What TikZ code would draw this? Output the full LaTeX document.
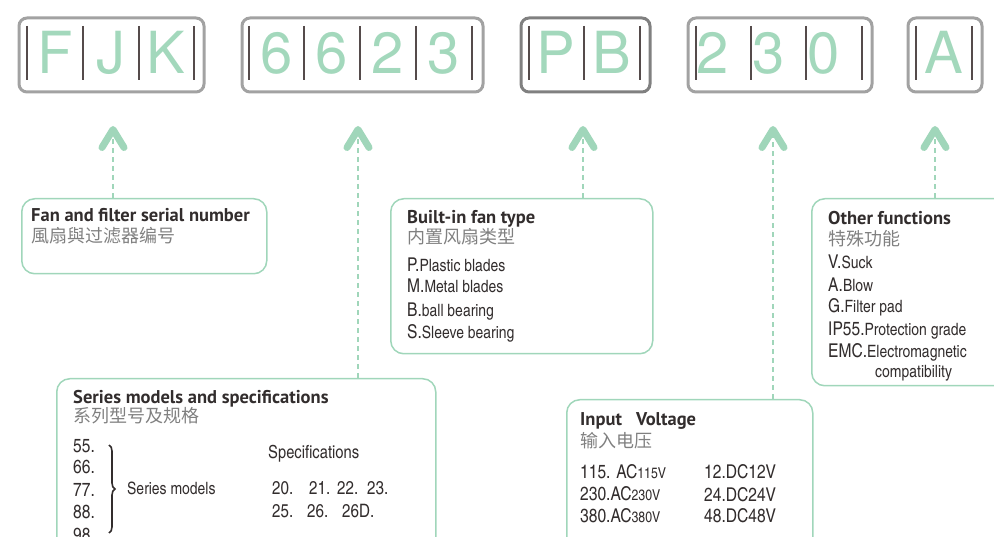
\documentclass[tikz,border=0pt]{standalone}
\usepackage{fontspec}
\setmainfont{TeX Gyre Heros}
\newfontfamily\headfont{PT Sans}
\newfontfamily\condfont{texgyreheroscn-regular.otf}
\newfontfamily\cjkfont{Noto Sans CJK SC}
\usetikzlibrary{arrows.meta,decorations.pathreplacing}
\definecolor{codegreen}{RGB}{163,216,188}
\definecolor{linegreen}{RGB}{160,214,186}
\definecolor{boxgray}{RGB}{162,162,162}
\definecolor{boxdark}{RGB}{128,128,128}
\definecolor{bardark}{RGB}{85,75,75}
\definecolor{textdark}{RGB}{50,45,45}
\definecolor{cjkgray}{RGB}{128,128,128}
\newcommand\sz[1]{\fontsize{#1}{#1}\selectfont}

\begin{document}
\begin{tikzpicture}[x=1pt,y=-1pt,
  codebox/.style={draw=boxgray,line width=3pt,rounded corners=8pt,minimum height=74pt,inner sep=0pt,anchor=north west},
  infobox/.style={draw=linegreen,line width=1.5pt,rounded corners=13pt,inner sep=0pt,anchor=north west},
  bar/.style={draw=bardark,line width=1.5pt},
  codechar/.style={text=codegreen,font=\sz{58},inner sep=0pt,anchor=base},
  head/.style={font=\headfont\bfseries\sz{18.5},text=textdark,inner sep=0pt,anchor=base west},
  cjk/.style={font=\cjkfont\sz{18},text=cjkgray,inner sep=0pt,anchor=base west},
  item/.style={font=\condfont\sz{17},text=textdark,inner sep=0pt,anchor=base west},
  lead/.style={draw=linegreen,line width=2.5pt,dash pattern=on 5pt off 4pt,
    -{Straight Barb[length=18pt,width=22pt,line width=7pt,round]}}]
\useasboundingbox (0,0) rectangle (994,537); \clip (0,0) rectangle (994,537);
% code boxes
\node[codebox,minimum width=185pt] (code-fjk) at (17.5,16.5) {};
\node[codebox,minimum width=241pt] (code-6623) at (240.5,16.5) {};
\node[codebox,draw=boxdark,minimum width=129pt] (code-pb) at (519.5,16.5) {};
\node[codebox,minimum width=184pt] (code-230) at (686.5,16.5) {};
\node[codebox,minimum width=74pt] (code-a) at (906.5,16.5) {};
\foreach \x in {27,83,139,194,249,304,360,416,472,529,584,640,696,751,806,862,916,972} \draw[bar] (\x,26)--(\x,80);
\foreach \x/\c [count=\i] in {55/F,111/J,166/K,277/6,332/6,388/2,444/3,556/P,612/B,944/A} \node[codechar] (ch\i) at (\x,74) {\c};
\foreach \x/\c [count=\i] in {696.5/2,752/3,807/0} \node[codechar,anchor=base west] (dg\i) at (\x,74) {\c};
% info boxes
\node[infobox,minimum width=245pt,minimum height=75pt] (box-fan) at (21,198) {};
\node[infobox,minimum width=262pt,minimum height=155pt] (box-type) at (390,198) {};
\node[infobox,minimum width=230pt,minimum height=187pt] (box-func) at (811,198) {};
\node[infobox,minimum width=379pt,minimum height=200pt] (box-series) at (56,378) {};
\node[infobox,minimum width=246pt,minimum height=200pt] (box-volt) at (566,399) {};
\foreach \n/\x in {fan/113,series/358,type/583,volt/773,func/935} {
  \coordinate (tip-\n) at (\x,126); \draw[lead] (tip-\n |- box-\n.north)--(tip-\n);}
% fan and filter
\node[head] (fan-en) at (31,222) {Fan and filter serial number};
\node[cjk] (fan-cn) at (31,243) {風扇與过滤器编号};
% fan type
\node[head] (type-en) at (407,224) {Built-in fan type};
\node[cjk] (type-cn) at (407,244) {内置风扇类型};
\foreach \y/\a/\b [count=\i] in {272/P./Plastic blades,293/M./Metal blades,317/B./ball bearing,339/S./Sleeve bearing}
  \node[item] (type\i) at (407,\y) {{\sz{19}\a}\b};
% other functions
\node[head] (func-en) at (828,225) {Other functions};
\node[cjk] (func-cn) at (828,246) {特殊功能};
\foreach \y/\a/\b [count=\i] in {269/V./Suck,292/A./Blow,313/G./Filter pad,336/IP55./Protection grade,358/EMC./Electromagnetic}
  \node[item] (func\i) at (828,\y) {{\sz{19}\a}\b};
\node[item] (func6) at (875,378) {compatibility};
% series
\node[head] (series-en) at (73,403) {Series models and specifications};
\node[cjk] (series-cn) at (73,423) {系列型号及规格};
\foreach \y/\a [count=\i] in {452/55.,473/66.,496/77.,518/88.,541/98.}
  \node[item,font=\condfont\sz{19}] (ser\i) at (73,\y) {\a};
\draw[textdark,line width=1.6pt,decorate,decoration={brace,amplitude=6pt}] (109,445)--(109,533);
\node[item] (ser-label) at (127,494) {Series models};
\node[item,font=\condfont\sz{18}] (spec-label) at (268,458) {Specifications};
\foreach \x/\y/\a [count=\i] in {272/494/20.,309/494/21.,337/494/22.,367/494/23.,272/517/25.,307/517/26.,342/517/26D.}
  \node[item,font=\condfont\sz{18.5}] (spec\i) at (\x,\y) {\a};
% input voltage
\node[head] (volt-en) at (580,425) {Input\ \ \ Voltage};
\node[cjk] (volt-cn) at (580,447) {输入电压};
\node[item] (ac1) at (580,478) {{\sz{19}115. AC}{\sz{15}115V}};
\node[item] (ac2) at (580,500) {{\sz{19}230.AC}{\sz{15}230V}};
\node[item] (ac3) at (580,522) {{\sz{19}380.AC}{\sz{15}380V}};
\foreach \y/\a [count=\i] in {478/12.DC12V,501/24.DC24V,522/48.DC48V}
  \node[item,font=\condfont\sz{19}] (dc\i) at (704,\y) {\a};
\end{tikzpicture}
\end{document}
